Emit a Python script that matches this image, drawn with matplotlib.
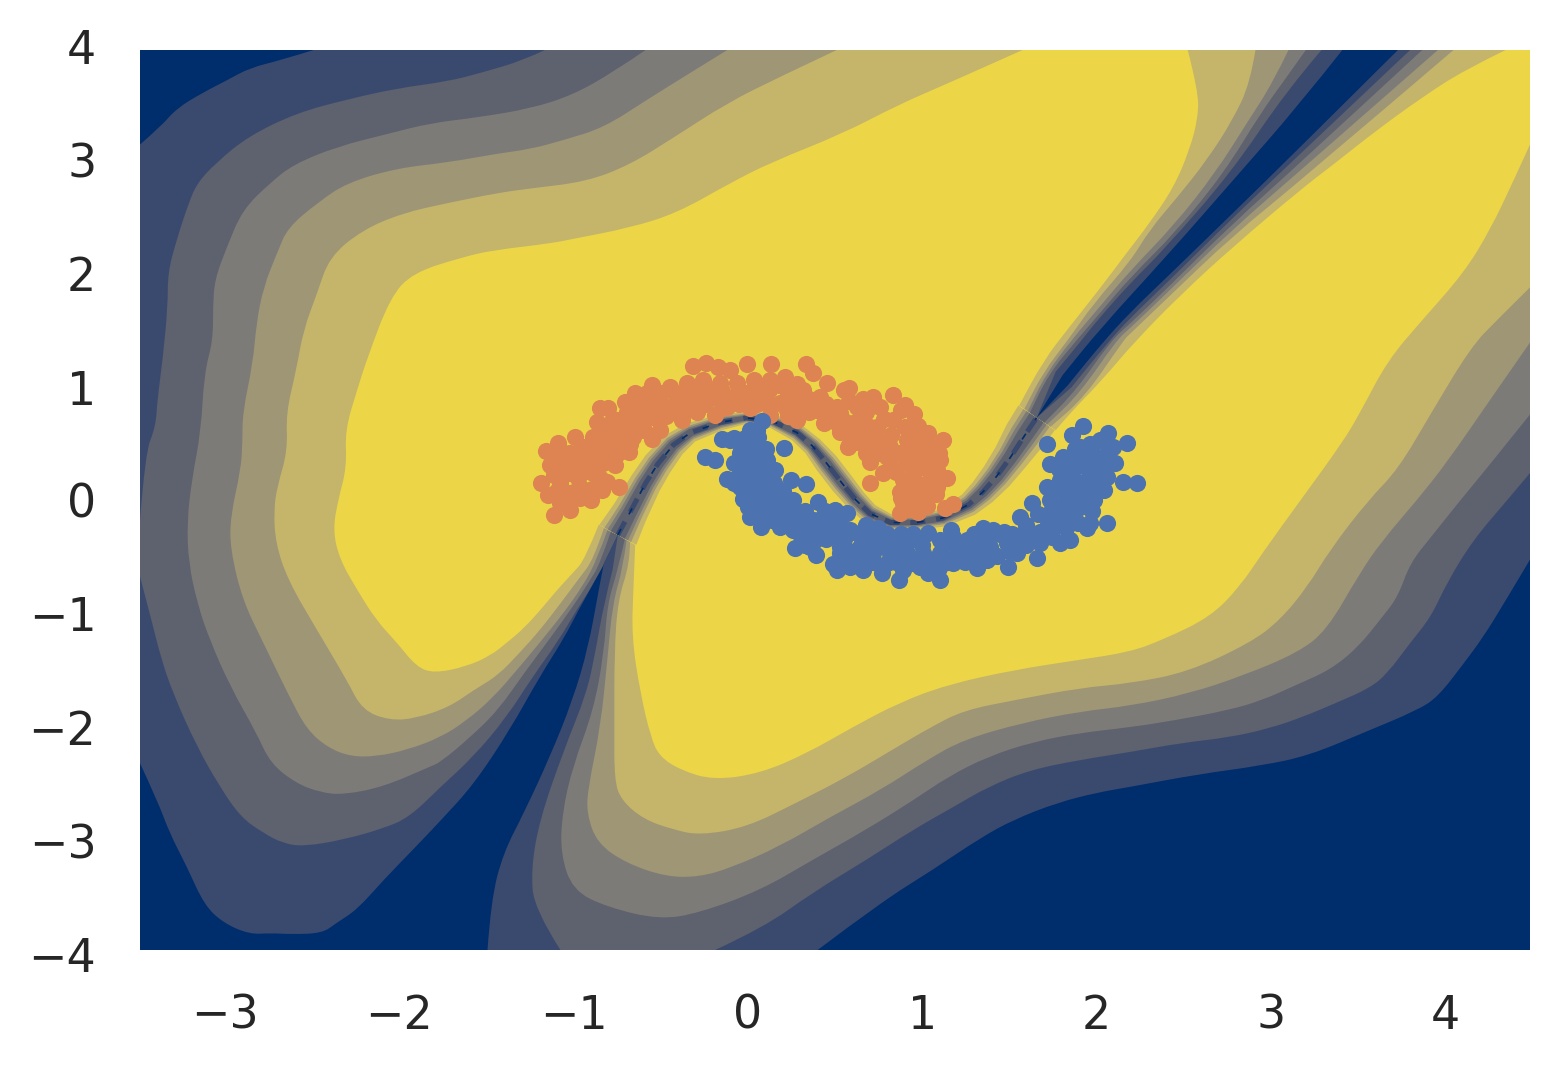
import numpy as np
import matplotlib.pyplot as plt
from matplotlib.path import Path
from matplotlib.patches import PathPatch

#contour outlines, (x, y) in data units
#hill_a = upper left region, hill_b = lower right region, 1 = outermost level
hill_a_1 = [(-0.83,-0.56),(-0.91,-0.80),(-0.97,-0.96),(-1.06,-1.23),(-1.20,-1.57),(-1.37,-2.04),(-1.58,-2.53),(-1.77,-2.85),
            (-1.93,-3.11),(-2.10,-3.38),(-2.25,-3.64),(-2.37,-3.76),(-2.45,-3.85),(-2.62,-3.86),(-2.75,-3.85),(-2.87,-3.86),
            (-3.02,-3.76),(-3.13,-3.60),(-3.23,-3.26),(-3.33,-2.96),(-3.40,-2.67),(-3.50,-2.34),(-3.50,3.16),(-3.38,3.32),
            (-3.29,3.48),(-3.14,3.62),(-3.00,3.73),(-2.87,3.84),(-2.69,3.91),(-2.50,4.00),(3.42,4.00),(3.18,3.53),(2.79,2.84),
            (2.41,2.17),(2.03,1.53),(1.81,1.11)]
hill_a_2 = [(-0.84,-0.60),(-0.90,-0.77),(-0.98,-0.96),(-1.10,-1.27),(-1.24,-1.57),(-1.39,-1.93),(-1.58,-2.28),(-1.77,-2.55),
            (-1.95,-2.82),(-2.10,-2.92),(-2.33,-3.02),(-2.56,-3.08),(-2.68,-3.05),(-2.79,-2.96),(-2.92,-2.82),(-3.04,-2.55),
            (-3.17,-2.20),(-3.31,-1.72),(-3.38,-1.40),(-3.43,-1.09),(-3.50,-0.68),(-3.50,-0.18),(-3.47,0.42),(-3.41,0.65),
            (-3.40,0.89),(-3.37,1.24),(-3.34,1.72),(-3.34,2.02),(-3.29,2.31),(-3.22,2.64),(-3.17,2.82),(-3.06,3.00),(-2.88,3.23),
            (-2.60,3.44),(-2.31,3.56),(-2.02,3.66),(-1.73,3.72),(-1.53,3.80),(-1.29,3.91),(-1.17,4.00),(3.30,4.00),(3.10,3.64),
            (2.78,2.91),(2.39,2.22),(2.20,1.93),(2.00,1.58),(1.92,1.42),(1.77,1.14)]
hill_a_3 = [(-0.79,-0.28),(-0.85,-0.56),(-0.92,-0.74),(-1.01,-0.95),(-1.14,-1.23),(-1.29,-1.54),(-1.44,-1.87),(-1.60,-2.11),(-1.77,-2.33),
            (-1.83,-2.37),(-2.10,-2.55),(-2.33,-2.62),(-2.46,-2.60),(-2.60,-2.52),(-2.75,-2.34),(-2.83,-2.07),(-2.98,-1.66),
            (-3.10,-1.24),(-3.17,-0.92),(-3.22,-0.56),(-3.23,-0.20),(-3.20,0.20),(-3.15,0.60),(-3.13,1.13),(-3.08,1.42),
            (-3.08,1.72),(-3.07,1.96),(-3.00,2.25),(-2.91,2.58),(-2.75,2.82),(-2.62,2.98),(-2.37,3.14),(-2.06,3.26),(-1.83,3.35),
            (-1.56,3.40),(-1.25,3.48),(-1.01,3.60),(-0.78,3.80),(-0.59,4.00),(3.21,4.00),(3.10,3.76),(2.95,3.44),(2.74,2.91),
            (2.46,2.38),(2.20,1.98),(2.03,1.67),(1.89,1.42),(1.73,1.12),(1.62,0.77)]
hill_a_4 = [(-0.81,-0.27),(-0.87,-0.53),(-0.95,-0.76),(-1.06,-1.00),(-1.20,-1.27),(-1.33,-1.51),(-1.47,-1.76),(-1.62,-1.96),(-1.77,-2.11),
            (-1.96,-2.22),(-2.14,-2.28),(-2.29,-2.28),(-2.42,-2.20),(-2.54,-2.04),(-2.64,-1.75),(-2.79,-1.27),(-2.91,-0.89),
            (-2.98,-0.44),(-2.98,-0.15),(-2.92,0.27),(-2.91,0.51),(-2.91,0.77),(-2.85,1.22),(-2.83,1.57),(-2.79,1.89),(-2.71,2.20),
            (-2.65,2.42),(-2.48,2.64),(-2.31,2.82),(-2.02,2.95),(-1.73,3.00),(-1.44,3.08),(-1.25,3.12),(-1.06,3.20),(-0.83,3.31),
            (-0.58,3.56),(-0.33,3.80),(-0.12,4.00),(3.11,4.00),(3.02,3.71),(2.87,3.35),(2.69,2.91),(2.45,2.44),(2.20,2.04),
            (2.03,1.73),(1.86,1.42),(1.71,1.11),(1.61,0.79)]
hill_a_5 = [(-0.83,-0.25),(-0.89,-0.53),(-0.97,-0.69),(-1.08,-0.92),(-1.20,-1.16),(-1.31,-1.35),(-1.44,-1.56),(-1.58,-1.69),(-1.72,-1.84),
            (-1.91,-1.94),(-2.06,-1.96),(-2.22,-1.87),(-2.31,-1.60),(-2.48,-1.16),(-2.65,-0.71),(-2.72,-0.38),(-2.73,-0.09),
            (-2.71,0.12),(-2.65,0.44),(-2.66,0.77),(-2.60,1.16),(-2.56,1.51),(-2.48,1.84),(-2.41,2.16),(-2.22,2.40),(-1.99,2.55),
            (-1.73,2.64),(-1.44,2.73),(-1.25,2.77),(-0.93,2.83),(-0.68,2.98),(-0.43,3.22),(-0.12,3.53),(0.18,3.76),(0.51,4.00),
            (2.92,4.00),(2.89,3.71),(2.79,3.38),(2.64,3.02),(2.47,2.69),(2.31,2.40),(2.20,2.12),(1.99,1.75),(1.84,1.42),(1.70,1.14),(1.59,0.81)]
hill_a_6 = [(-0.86,-0.22),(-0.94,-0.53),(-1.01,-0.65),(-1.10,-0.80),(-1.18,-0.95),(-1.29,-1.14),(-1.39,-1.27),(-1.48,-1.38),(-1.62,-1.48),
            (-1.81,-1.54),(-1.91,-1.48),(-2.02,-1.27),(-2.14,-1.07),(-2.25,-0.80),(-2.35,-0.53),(-2.39,-0.27),(-2.36,0.00),
            (-2.31,0.29),(-2.32,0.62),(-2.25,0.98),(-2.19,1.27),(-2.06,1.80),(-1.93,2.02),(-1.64,2.16),(-1.47,2.22),(-1.14,2.28),
            (-1.01,2.32),(-0.68,2.42),(-0.41,2.55),(-0.10,2.82),(0.13,3.00),(0.55,3.26),(0.86,3.51),(1.16,3.71),(1.58,4.00),
            (2.53,4.00),(2.59,3.64),(2.59,3.40),(2.54,3.11),(2.45,2.78),(2.31,2.46),(2.18,2.20),(2.03,1.89),(1.85,1.54),(1.70,1.24),
            (1.56,0.84)]

hill_b_1 = [(-0.83,-0.56),(-0.86,-0.80),(-0.92,-1.31),(-1.01,-1.78),(-1.14,-2.28),(-1.29,-2.78),(-1.41,-3.14),(-1.48,-3.56),
            (-1.50,-4.00),(0.40,-4.00),(0.76,-3.58),(1.06,-3.29),(1.34,-3.00),(1.53,-2.84),(1.78,-2.69),(2.01,-2.60),(2.20,-2.55),
            (2.58,-2.44),(2.96,-2.36),(3.23,-2.27),(3.54,-2.07),(3.85,-1.87),(3.97,-1.75),(4.12,-1.45),(4.23,-1.22),(4.35,-0.92),
            (4.50,-0.53),(4.50,4.00),(3.74,4.00),(3.18,3.14),(2.79,2.55),(2.41,1.98),(2.20,1.67),(2.04,1.40),(1.84,1.02)]
hill_b_2 = [(-0.78,-0.62),(-0.83,-0.92),(-0.88,-1.36),(-0.93,-1.72),(-1.06,-2.22),(-1.20,-2.84),(-1.25,-3.29),(-1.23,-3.64),
            (-1.08,-4.00),(-0.19,-4.00),(0.09,-3.80),(0.37,-3.49),(0.68,-3.20),(0.95,-2.93),(1.18,-2.73),(1.38,-2.55),(1.62,-2.40),
            (1.91,-2.31),(2.20,-2.24),(2.49,-2.16),(2.77,-2.11),(3.00,-2.03),(3.19,-1.93),(3.39,-1.80),(3.58,-1.67),(3.68,-1.54),
            (3.81,-1.27),(3.93,-1.04),(4.02,-0.74),(4.17,-0.36),(4.37,0.00),(4.50,0.24),(4.50,4.00),(3.81,4.00),(3.18,3.08),
            (2.79,2.51),(2.41,1.93),(2.20,1.62),(2.07,1.40),(1.86,1.00)]
hill_b_3 = [(-0.71,-0.35),(-0.75,-0.62),(-0.81,-0.92),(-0.83,-1.36),(-0.89,-1.87),(-1.01,-2.37),(-1.07,-2.78),(-1.08,-3.14),(-1.01,-3.47),
            (-0.81,-3.62),(-0.51,-3.73),(-0.28,-3.67),(0.07,-3.47),(0.37,-3.20),(0.68,-2.93),(0.95,-2.67),(1.15,-2.46),(1.38,-2.28),
            (1.64,-2.15),(1.91,-2.07),(2.20,-2.02),(2.45,-1.96),(2.76,-1.87),(2.96,-1.78),(3.16,-1.64),(3.35,-1.51),(3.51,-1.31),
            (3.65,-1.04),(3.74,-0.86),(3.81,-0.56),(3.93,-0.33),(4.10,0.00),(4.23,0.24),(4.50,0.76),(4.50,4.00),(3.88,4.00),
            (3.18,3.00),(2.79,2.46),(2.41,1.88),(2.20,1.57),(2.09,1.42),(1.89,0.98),(1.70,0.68)]
hill_b_4 = [(-0.70,-0.36),(-0.72,-0.60),(-0.78,-0.92),(-0.81,-1.42),(-0.85,-2.02),(-0.92,-2.55),(-0.93,-2.78),(-0.87,-3.05),(-0.70,-3.23),
            (-0.47,-3.35),(-0.28,-3.35),(-0.10,-3.27),(0.18,-3.08),(0.47,-2.82),(0.76,-2.58),(1.03,-2.31),(1.24,-2.13),(1.58,-1.98),
            (1.91,-1.88),(2.20,-1.83),(2.54,-1.72),(2.85,-1.56),(3.16,-1.36),(3.33,-1.16),(3.52,-0.65),(3.65,-0.36),(3.85,0.00),
            (4.02,0.33),(4.27,0.89),(4.50,1.40),(4.50,4.00),(3.97,4.00),(3.18,2.93),(2.79,2.41),(2.41,1.84),(2.20,1.53),(2.12,1.42),
            (1.91,0.95),(1.72,0.67)]
hill_b_5 = [(-0.68,-0.37),(-0.68,-0.56),(-0.75,-0.89),(-0.77,-1.36),(-0.77,-2.02),(-0.77,-2.49),(-0.73,-2.67),(-0.60,-2.84),(-0.43,-2.93),
            (-0.28,-2.98),(-0.01,-2.91),(0.28,-2.69),(0.57,-2.46),(0.83,-2.22),(1.05,-2.02),(1.24,-1.87),(1.53,-1.78),(1.91,-1.67),
            (2.20,-1.63),(2.53,-1.53),(2.89,-1.27),(3.06,-1.07),(3.22,-0.77),(3.35,-0.44),(3.57,0.00),(3.74,0.27),(3.93,0.77),
            (4.16,1.36),(4.31,1.60),(4.50,1.89),(4.50,4.00),(4.06,4.00),(3.18,2.84),(2.79,2.35),(2.41,1.79),(2.20,1.48),(2.16,1.42),
            (1.94,0.92),(1.74,0.65)]
hill_b_6 = [(-0.65,-0.40),(-0.66,-0.77),(-0.67,-1.22),(-0.62,-1.72),(-0.56,-2.11),(-0.51,-2.28),(-0.39,-2.40),(-0.20,-2.49),
            (0.07,-2.43),(0.34,-2.25),(0.60,-2.02),(0.87,-1.80),(1.15,-1.64),(1.53,-1.51),(1.91,-1.42),(2.20,-1.35),(2.39,-1.24),
            (2.66,-1.04),(2.83,-0.77),(2.96,-0.47),(3.18,0.00),(3.42,0.51),(3.52,0.77),(3.68,1.24),(3.88,1.60),(4.12,2.02),(4.27,2.40),
            (4.40,2.82),(4.50,3.16),(4.50,4.00),(4.36,4.00),(4.12,3.82),(3.88,3.58),(3.62,3.29),(3.35,2.96),(3.18,2.76),(2.79,2.25),
            (2.50,1.84),(2.22,1.40),(2.04,1.07),(1.87,0.80),(1.77,0.62)]

#centre of the thin band between the two regions, and its half width in pixels
arch_x = [-0.75,-0.68,-0.59,-0.52,-0.43,-0.33,-0.16,-0.01,0.14,0.28,0.37,0.45,0.54,0.62,0.70,0.82,0.97,1.12,1.27,1.35,1.43,1.51,1.59,1.66]
arch_y = [-0.31,-0.11,0.15,0.32,0.49,0.60,0.69,0.73,0.70,0.60,0.48,0.33,0.15,0.00,-0.12,-0.20,-0.20,-0.16,-0.04,0.07,0.21,0.38,0.57,0.73]
arch_width = [21,18,16,15,13,10,8,6,7,9,10,12,12,11,10,8,7,9,12,14,16,18,21,22]

#scatter points
orange_pts = [(-0.318,1.191),(-0.242,1.215),(-0.171,1.179),(-0.104,1.156),(-0.008,1.209),(0.130,1.209),(0.334,1.209),(0.213,1.096),
              (0.376,1.126),(0.453,1.037),(0.549,0.978),(-0.554,1.022),(-0.650,0.948),(-0.708,0.874),(-0.852,0.815),(-0.804,0.815),
              (-0.871,0.696),(-0.996,0.563),(-1.092,0.504),(-1.163,0.436),(-1.143,0.311),(-1.193,0.148),(-1.149,0.044),(-1.120,-0.133),
              (-1.028,-0.089),(-1.082,-0.030),(-0.904,0.000),(-0.842,0.089),(-0.741,0.113),(-0.810,0.163),(-0.765,0.311),(-0.683,0.430),
              (-0.554,0.539),(-0.506,0.622),(-0.382,0.711),(-0.295,0.785),(-0.190,0.756),(0.012,0.815),(0.127,0.756),(0.280,0.711),
              (0.434,0.681),(0.529,0.607),(0.577,0.474),(-1.024,0.415),(-0.948,0.474),(-0.890,0.563),(-0.813,0.652),(-0.737,0.711),
              (-0.641,0.830),(-0.545,0.889),(-0.449,1.007),(-0.353,1.037),(-0.257,1.067),(-0.161,1.037),(-0.065,1.037),(0.031,1.067),
              (0.127,1.067),(0.223,0.978),(0.318,0.978),(0.414,0.919),(0.510,0.830),(-0.468,0.830),(-0.391,0.889),(-0.295,0.919),
              (-0.200,0.919),(-0.104,0.889),(-0.008,0.948),(0.088,0.919),(0.184,0.859),(0.299,0.830),(0.395,0.800),(-0.641,0.681),
              (-0.737,0.533),(-0.833,0.474),(-0.929,0.326),(-1.024,0.237),(-1.082,0.148),(-0.967,0.119),(-1.024,0.059),(-0.890,0.237),
              (-1.044,0.356),(-0.545,0.741),(-0.660,0.563),(-0.833,0.326),(-0.123,0.830),(0.223,0.800),
              (0.583,0.993),(0.721,0.919),(0.836,0.933),(0.904,0.844),(0.955,0.764),(1.038,0.593),(1.120,0.533),(0.583,0.489),
              (0.702,0.335),(0.702,0.148),(0.779,0.237),(0.875,0.074),(0.875,-0.119),(0.980,-0.104),(1.086,0.119),(1.143,0.193),
              (1.134,-0.074),(1.182,-0.036),(1.105,0.356),(0.530,0.770),(0.625,0.830),(0.645,0.622),(0.760,0.830),(0.836,0.711),
              (0.990,0.474),(0.913,0.533),(0.817,0.474),(0.913,0.326),(1.009,0.296),(1.086,0.267),(0.971,0.148),(1.048,0.178),
              (0.894,0.178),(0.942,0.030),(0.894,-0.030),(0.664,0.504),(0.741,0.652),(0.875,0.415),(0.760,0.415),(0.606,0.681),(0.721,0.504),
              (-1.12,0.38),(-1.06,0.30),(-0.98,0.40),(-0.92,0.42),(-0.86,0.40),(-0.80,0.42),(-0.76,0.50),(-0.68,0.50),(-0.92,0.26),(-0.98,0.20),
              (-1.10,0.08),(-1.05,0.00),(-0.97,0.02),(-0.85,0.20),(-0.78,0.58),(-0.85,0.58),(-0.72,0.62),(-0.78,0.72),(-0.70,0.78),(-0.60,0.62),
              (-0.62,0.75),(-0.52,0.72),(-0.47,0.75),(-0.55,0.80),(-0.58,0.95),(-0.50,0.95),(-0.42,0.95),(-0.42,0.78),(-0.35,0.80),(-0.33,0.97),
              (-0.25,1.00),(-0.25,0.85),(-0.15,0.97),(-0.15,0.82),(-0.05,0.98),(-0.05,0.85),(0.05,1.00),(0.05,0.85),(0.12,0.98),(0.12,0.85),
              (0.18,1.02),(0.26,0.92),(0.28,1.03),(0.35,0.90),(0.35,0.78),(0.23,0.75),(0.45,0.85),(0.47,0.75),(0.55,0.70),(0.58,0.88),
              (0.66,0.90),(0.68,0.78),(0.60,0.58),(0.52,0.68),(0.65,0.72),(0.78,0.72),(0.88,0.80),(0.90,0.65),(0.95,0.60),(0.82,0.58),
              (0.72,0.58),(0.62,0.52),(0.68,0.42),(0.80,0.38),(0.82,0.30),(0.95,0.40),(1.03,0.42),(1.05,0.35),(0.85,0.25),(0.95,0.22),
              (1.02,0.10),(0.93,0.10),(1.08,0.05),(1.00,0.02),(0.88,0.02),(0.95,-0.03),(1.03,-0.05),(0.92,-0.08),(1.10,0.42),(1.07,0.47),
              (1.00,0.53),(0.98,0.66),(-1.12,0.22),(-1.00,0.30),(-1.06,0.42),(-0.98,0.10),(-0.90,0.10),(-0.75,0.42),(-0.90,0.33),(-0.70,0.68),
              (-0.88,0.47),(-0.60,0.88),(0.02,0.90),(-0.30,0.88),(0.70,0.65),(0.78,0.52),(1.08,0.13)]
blue_pts = [(0.079,0.702),(0.209,0.459),(-0.247,0.379),(-0.190,0.356),(-0.148,0.542),(-0.104,0.533),(0.012,0.622),(0.059,0.563),
            (-0.119,0.184),(-0.031,0.006),(0.012,-0.148),(0.073,-0.237),(0.155,0.267),(0.246,0.178),(0.334,0.142),(0.405,-0.021),
            (0.424,-0.163),(0.501,-0.089),(0.271,-0.430),(0.391,-0.489),(0.487,-0.569),(0.510,-0.622),(-0.046,0.415),(-0.084,0.326),
            (0.031,0.415),(0.069,0.474),(-0.008,0.237),(0.069,0.237),(0.107,0.119),(0.184,0.000),(0.261,0.000),(0.299,-0.119),
            (0.031,0.030),(0.107,-0.119),(0.184,-0.237),(0.261,-0.267),(0.338,-0.296),(0.414,-0.296),(0.510,-0.326),(0.529,-0.474),
            (-0.046,0.119),(0.127,0.000),(0.357,-0.415),(0.261,-0.178),(0.376,-0.178),(-0.046,0.237),(0.107,0.356),(-0.084,0.148),
            (0.568,-0.113),(0.587,-0.267),(0.750,-0.252),(0.530,-0.415),(0.587,-0.593),(0.664,-0.622),(0.769,-0.652),(0.871,-0.711),
            (0.990,-0.593),(1.038,-0.296),(1.038,-0.652),(1.105,-0.711),(1.166,-0.267),(1.259,-0.356),(1.316,-0.607),(1.354,-0.252),
            (1.412,-0.267),(1.470,-0.281),(1.374,-0.533),(1.498,-0.593),(1.661,-0.519),(1.565,-0.148),(1.633,-0.030),(1.719,0.119),
            (1.738,0.000),(1.796,-0.385),(1.853,-0.356),(1.953,-0.252),(2.064,-0.207),(1.738,0.320),(1.723,0.498),(1.815,0.385),
            (1.863,0.578),(1.930,0.658),(2.074,0.599),(2.179,0.504),(2.112,0.326),(2.026,0.533),(2.160,0.163),(2.237,0.148),
            (2.064,0.207),(1.911,0.474),(1.949,0.296),(1.988,0.119),(1.873,0.178),(1.834,0.030),(1.911,-0.059),(1.796,-0.148),
            (1.719,-0.237),(1.642,-0.326),(1.565,-0.415),(1.489,-0.385),(1.393,-0.415),(1.297,-0.444),(1.201,-0.474),(1.105,-0.474),
            (1.009,-0.474),(0.913,-0.474),(0.817,-0.474),(0.721,-0.474),(0.625,-0.444),(0.875,-0.385),(0.702,-0.356),(1.546,-0.474),
            (1.681,-0.385),(1.873,-0.119),(1.988,0.000),(2.026,0.356),(1.892,0.356),(1.796,0.178),(2.046,0.089),(1.969,-0.207),
            (1.182,-0.563),(0.894,-0.622),(1.374,-0.356),(0.683,-0.533),(1.105,-0.356),(0.950,-0.350),(0.800,-0.350),(1.250,-0.500),
            (-0.08,0.55),(-0.02,0.55),(0.05,0.62),(0.02,0.50),(-0.04,0.48),(0.00,0.40),(0.06,0.35),(0.03,0.30),(-0.03,0.30),(0.10,0.27),
            (0.15,0.15),(0.05,0.15),(0.00,0.12),(-0.02,0.05),(0.07,0.05),(0.13,0.05),(0.20,0.08),(0.05,-0.05),(0.00,-0.06),(0.14,-0.05),
            (0.21,-0.06),(0.05,-0.15),(0.14,-0.18),(0.19,-0.12),(0.23,-0.22),(0.26,-0.08),(0.30,-0.20),(0.33,-0.10),(0.30,-0.30),(0.36,-0.25),
            (0.42,-0.24),(0.45,-0.35),(0.38,-0.36),(0.33,-0.40),(0.47,-0.18),(0.53,-0.22),(0.48,-0.28),(0.55,-0.35),(0.60,-0.28),(0.66,-0.30),
            (0.68,-0.22),(0.60,-0.52),(0.56,-0.55),(0.65,-0.40),(0.72,-0.55),(0.75,-0.40),(0.80,-0.56),(0.85,-0.55),(0.80,-0.30),(0.88,-0.30),
            (0.95,-0.30),(0.95,-0.56),(1.00,-0.40),(1.05,-0.55),(1.10,-0.60),(1.12,-0.40),(1.15,-0.55),(1.20,-0.40),(1.25,-0.42),(1.25,-0.55),
            (1.32,-0.50),(1.35,-0.40),(1.43,-0.50),(1.45,-0.30),(1.52,-0.30),(1.58,-0.30),(1.60,-0.22),(1.68,-0.28),(1.72,-0.15),(1.67,-0.12),
            (1.75,-0.08),(1.80,-0.05),(1.88,-0.03),(1.92,0.05),(1.85,0.08),(1.78,0.10),(1.95,0.18),(2.00,0.20),(2.03,0.28),(1.93,0.38),
            (1.98,0.42),(1.85,0.28),(1.79,0.28),(1.88,0.45),(1.97,0.50),(2.07,0.44),(2.10,0.47),(1.83,-0.25),(1.90,-0.20),(1.75,-0.33),(1.98,-0.10),
            (1.00,-0.52),(0.88,-0.42),(0.66,-0.48),(0.74,-0.30),(1.18,-0.33),(1.30,-0.30),(1.40,-0.45),(1.50,-0.45),(1.60,-0.40),(1.77,-0.20),
            (1.85,-0.15),(1.92,0.12),(1.83,0.22),(1.90,0.30),(2.00,0.38),(0.10,0.45),(0.00,0.20),(0.10,-0.02),(0.20,-0.02),(0.44,-0.10),(0.55,-0.42)]

x_ticks = [-3, -2, -1, 0, 1, 2, 3, 4]
y_ticks = [-4, -3, -2, -1, 0, 1, 2, 3, 4]

level_colors = ['#3a4a6e', '#5e616e', '#7c7b78', '#9e9675', '#c4b56b', '#ecd647']
navy = '#002d6c'


def on_edge(p):
    return p[0] in (-3.5, 4.5) or p[1] in (-4.0, 4.0)


#rounded outline through the contour vertices, corners on the axes edge stay sharp
def outline_path(outline, closing):
    pts = [np.array(p, dtype=float) for p in outline]
    verts = [pts[0]]
    codes = [Path.MOVETO]
    for i in range(1, len(pts) - 1):
        p = pts[i]
        if on_edge(p):
            verts.append(p)
            codes.append(Path.LINETO)
        else:
            nxt = pts[i + 1]
            end = nxt if on_edge(nxt) else (p + nxt) / 2
            verts += [p, end]
            codes += [Path.CURVE3, Path.CURVE3]
    verts.append(pts[-1])
    codes.append(Path.LINETO)
    for p in closing:
        verts.append(p)
        codes.append(Path.LINETO)
    verts.append(pts[0])
    codes.append(Path.CLOSEPOLY)
    return Path(np.array(verts), codes)


fig = plt.figure(figsize=(1562/300, 1068/300), dpi=300)
ax = fig.add_axes([140/1562, 118/1068, 1390/1562, 900/1068])
ax.set_xlim(-3.5, 4.5)
ax.set_ylim(-4, 4)
ax.set_facecolor(navy)
ax.set_xticks([])
ax.set_yticks([])

arch = np.column_stack([arch_x, arch_y])

#each region is closed along the centre of the thin band
hills_a = [hill_a_1, hill_a_2, hill_a_3, hill_a_4, hill_a_5, hill_a_6]
hills_b = [hill_b_1, hill_b_2, hill_b_3, hill_b_4, hill_b_5, hill_b_6]
for hills in (hills_a, hills_b):
    for outline, color in zip(hills, level_colors):
        ax.add_patch(PathPatch(outline_path(outline, arch[::-1]), facecolor=color, linewidth=0, zorder=1))

#thin band: nested strips around the centre line, khaki on the outside
pix = ax.transData.transform(arch)
tang = np.gradient(pix, axis=0)
tang = tang / np.linalg.norm(tang, axis=1, keepdims=True)
normal = np.column_stack([-tang[:, 1], tang[:, 0]])
width = np.array(arch_width)[:, None]
for frac, color in zip([1.0, 0.72, 0.55, 0.38], [level_colors[4], level_colors[3], level_colors[2], level_colors[1]]):
    strip = np.vstack([pix + normal * width * frac, (pix - normal * width * frac)[::-1]])
    strip = ax.transData.inverted().transform(strip)
    ax.fill(strip[:, 0], strip[:, 1], color=color, linewidth=0, zorder=2)

ax.plot(arch_x, arch_y, color=level_colors[0], lw=1.2, dashes=(3, 2.2), zorder=3)
ax.plot(arch_x, arch_y, color=navy, lw=0.4, dashes=(4, 10), zorder=3)

orange = np.array(orange_pts)
blue = np.array(blue_pts)
ax.scatter(orange[:, 0], orange[:, 1], s=17, color='#dd8452', linewidth=0, zorder=4)
ax.scatter(blue[:, 0], blue[:, 1], s=17, color='#4c72b0', linewidth=0, zorder=5)

for spine in ax.spines.values():
    spine.set_visible(False)

#tick labels sit on a slightly larger frame than the filled area
tick_ax = fig.add_axes([138/1562, 114/1068, 1394.4/1562, 907/1068], facecolor='none')
tick_ax.set_xlim(-3.5, 4.5)
tick_ax.set_ylim(-4, 4)
tick_ax.set_xticks(x_ticks)
tick_ax.set_yticks(y_ticks)
tick_ax.tick_params(length=0, labelsize=11, labelcolor='#262626')
tick_ax.tick_params(axis='x', pad=9.5)
tick_ax.tick_params(axis='y', pad=10)
for spine in tick_ax.spines.values():
    spine.set_visible(False)

fig.savefig('out.png', dpi=300)
